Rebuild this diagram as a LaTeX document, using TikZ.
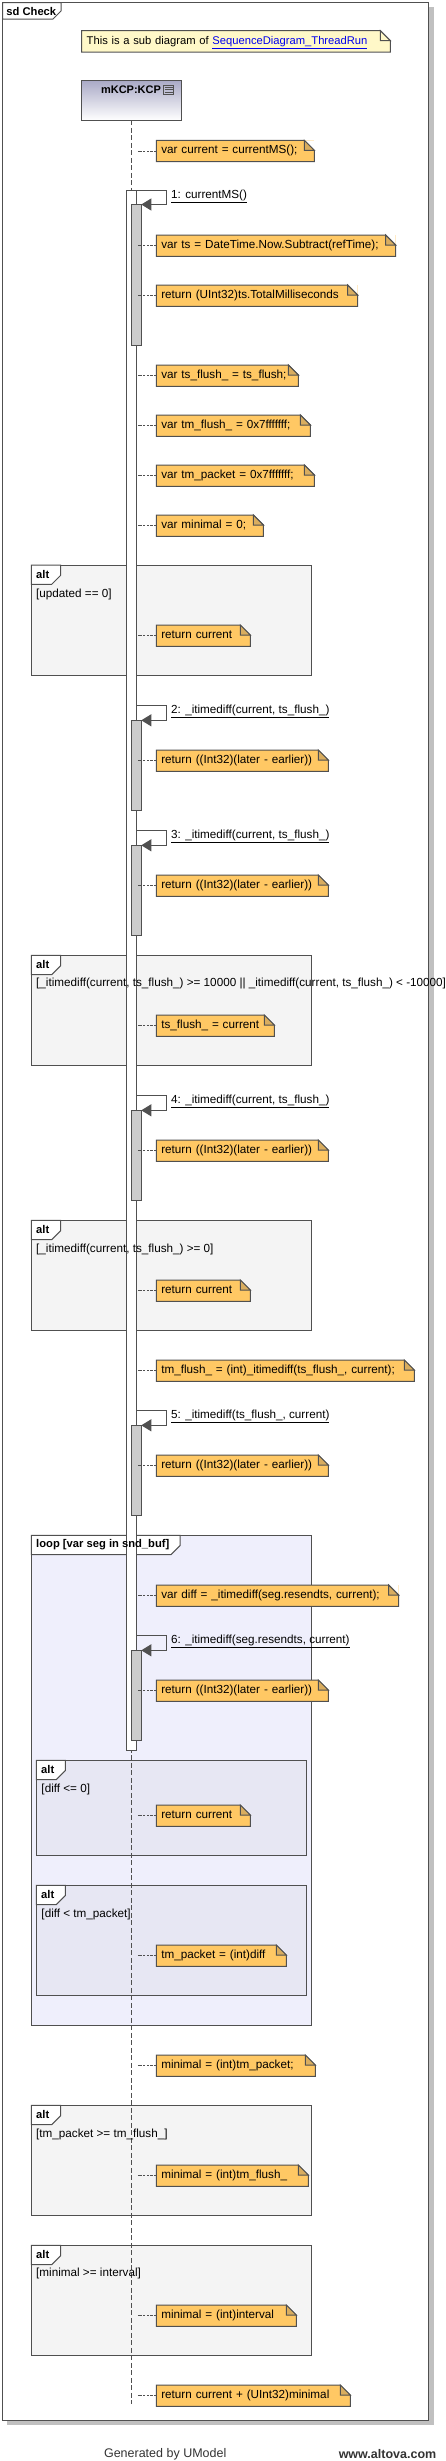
\documentclass[tikz,border=0pt]{standalone}
\usepackage{fontspec}
\setmainfont{Liberation Sans}
\usetikzlibrary{positioning,arrows.meta,calc}
\definecolor{linegray}{HTML}{505050}
\definecolor{shadowgray}{HTML}{C0C0C0}
\definecolor{noteorange}{HTML}{FFC864}
\definecolor{notefold}{HTML}{D9AD5F}
\definecolor{topnotefill}{HTML}{FFF8C8}
\definecolor{altgray}{HTML}{F4F4F4}
\definecolor{loopblue}{HTML}{EFEFFC}
\definecolor{innerblue}{HTML}{E7E7F3}
\definecolor{headtop}{HTML}{A9A9C6}
\definecolor{actgray}{HTML}{CCCCCC}
\definecolor{linkblue}{HTML}{0000EE}
\definecolor{footgray}{HTML}{333333}
\newcommand{\umlfont}{\fontsize{11.7}{14}\selectfont}
\newcommand{\tabfont}{\fontsize{11.2}{13.4}\selectfont\bfseries}
\newcommand{\footfont}{\fontsize{12.5}{15}\selectfont}

\begin{document}
\begin{tikzpicture}[x=1pt, y=-1pt,
    frag/.style={draw=linegray, line width=1pt, anchor=north west, inner sep=0pt, outer sep=0pt},
    tabline/.style={draw=linegray, line width=1pt, fill=white},
    tabtext/.style={anchor=west, inner sep=0pt, font=\tabfont},
    guard/.style={anchor=west, inner sep=0pt, font=\umlfont},
    note/.style={fill=noteorange, anchor=north west, inner ysep=0pt, inner xsep=5pt, outer sep=0pt,
        minimum height=21.3pt, text height=8.5pt, text depth=2.5pt, font=\umlfont, align=left},
    noteline/.style={draw=linegray, line width=1pt},
    fold/.style={draw=linegray, line width=1pt, fill=notefold},
    act/.style={draw=linegray, line width=1pt, anchor=north west, inner sep=0pt, outer sep=0pt, minimum width=9.6pt},
    conn/.style={draw=linegray, line width=0.8pt, dash pattern=on 2.2pt off 1.5pt},
    lifeline/.style={draw=linegray, line width=1.3pt, dash pattern=on 5pt off 2.5pt},
    msg/.style={draw=linegray, line width=1pt, -{Triangle[length=10pt, width=12pt]}},
    msglabel/.style={anchor=base west, inner sep=0pt, font=\umlfont}
  ]
  \useasboundingbox (0,0) rectangle (445,2461);
  \fill[shadowgray] (7.3,6.7) rectangle (434,2425.3);
  \node[frag, fill=white, minimum width=425.6pt, minimum height=2417.3pt] (sd) at (2.7,2.7) {};
  \filldraw[tabline] (sd.north west) -- ++(58.3,0) -- ++(0,8.3) -- ++(-8,8) -| (sd.north west) -- cycle;
  \node[tabtext] (sdname) at ([shift={(3.5,8.5)}]sd.north west) {sd Check};

  \node[note, fill=topnotefill, text width=298.6pt, font=\fontsize{11.2}{13.4}\selectfont] (topnote) at (81.7,30.7)
    {This is a sub diagram of \textcolor{linkblue}{\underline{SequenceDiagram\_ThreadRun}}};
  \fill[white] ($(topnote.north east)+(-10,0)$) -- (topnote.north east) -- ++(0,10) -- cycle;
  \draw[noteline] (topnote.south west) -- (topnote.north west) -- ($(topnote.north east)+(-10,0)$) -- ($(topnote.north east)+(0,10)$) -- (topnote.south east) -- cycle;
  \filldraw[noteline, fill=topnotefill] ($(topnote.north east)+(-10,0)$) -- ++(0,10) -- ++(10,0) -- cycle;

  \node[draw=linegray, line width=1pt, top color=headtop, bottom color=white, anchor=north west,
    minimum width=100pt, minimum height=40pt, inner sep=0pt, outer sep=0pt] (kcp) at (81.7,80.3) {};
  \node[font=\fontsize{11}{13}\selectfont\bfseries, inner sep=0pt] (kcpname) at (131,90) {mKCP:KCP};
  \draw[linegray, line width=0.6pt] (163.3,85) rectangle (173.7,94.3);
  \foreach \y in {87.6,89.7,91.8}
    \draw[linegray, line width=0.5pt] (164.5,\y) -- (172.5,\y);

  \node[frag, fill=altgray, minimum width=280.4pt, minimum height=110.3pt] (altupd) at (31.3,565) {};
  \node[frag, fill=altgray, minimum width=280.4pt, minimum height=110pt] (altflush) at (31.3,955.3) {};
  \node[frag, fill=altgray, minimum width=280.4pt, minimum height=110pt] (altpos) at (31.3,1220.3) {};
  \node[frag, fill=loopblue, minimum width=280.4pt, minimum height=490pt] (loopseg) at (31.3,1535.3) {};
  \node[frag, fill=innerblue, minimum width=270pt, minimum height=95pt] (altdiff) at (36.3,1760.3) {};
  \node[frag, fill=innerblue, minimum width=270pt, minimum height=110pt] (altpkt) at (36.3,1885.3) {};
  \node[frag, fill=altgray, minimum width=280.4pt, minimum height=110pt] (altmin) at (31.3,2105.3) {};
  \node[frag, fill=altgray, minimum width=280.4pt, minimum height=110pt] (altint) at (31.3,2245.3) {};
  \foreach \f/\w in {altupd/29.4, altflush/29.4, altpos/29.4, loopseg/148.7, altdiff/29, altpkt/29, altmin/29.4, altint/29.4}
    \filldraw[tabline] (\f.north west) -- ++(\w,0) -- ++(0,10.3) -- ++(-9,9) -| (\f.north west) -- cycle;

  \coordinate (lifeend) at (131.7,2404);
  \draw[lifeline] (kcp.south) -- (lifeend);

  \node[act, fill=white, minimum height=1559.3pt] (act0) at (126.7,190.7) {};
  \foreach \i/\t/\h in {1/204.5/140.5, 2/720.3/89.7, 3/845.3/90, 4/1110.3/90, 5/1425.3/90, 6/1650.3/90}
    \node[act, fill=actgray, minimum height=\h] (act\i) at (131.7,\t) {};

  \node[tabtext] (tupd) at ([shift={(4.7,9.6)}]altupd.north west) {alt};
  \node[tabtext] (tflush) at ([shift={(4.7,9.6)}]altflush.north west) {alt};
  \node[tabtext] (tpos) at ([shift={(4.7,9.6)}]altpos.north west) {alt};
  \node[tabtext] (tloop) at ([shift={(4.7,9.6)}]loopseg.north west) {loop [var seg in snd\_buf]};
  \node[tabtext] (tdiff) at ([shift={(4.7,9.6)}]altdiff.north west) {alt};
  \node[tabtext] (tpkt) at ([shift={(4.7,9.6)}]altpkt.north west) {alt};
  \node[tabtext] (tmin) at ([shift={(4.7,9.6)}]altmin.north west) {alt};
  \node[tabtext] (tint) at ([shift={(4.7,9.6)}]altint.north west) {alt};

  \node[guard] (gupd) at (36,594) {[updated == 0]};
  \node[guard] (gflush) at (36,983.7) {[\_itimediff(current, ts\_flush\_) >= 10000 || \_itimediff(current, ts\_flush\_) < -10000]};
  \node[guard] (gpos) at (36,1249) {[\_itimediff(current, ts\_flush\_) >= 0]};
  \node[guard] (gdiff) at (41.3,1789) {[diff <= 0]};
  \node[guard] (gpkt) at (41.3,1914) {[diff < tm\_packet]};
  \node[guard] (gmin) at (36,2134) {[tm\_packet >= tm\_flush\_]};
  \node[guard] (gint) at (36,2273.3) {[minimal >= interval]};

  \node[note, text width=148pt] (n1) at (156.3,140.3) {var current = currentMS();};
  \node[note, text width=229.4pt] (n2) at (156.3,235) {var ts = DateTime.Now.Subtract(refTime);};
  \node[note, text width=191.4pt] (n3) at (156.3,285) {return (UInt32)ts.TotalMilliseconds};
  \node[note, text width=132pt] (n4) at (156.3,365) {var ts\_flush\_ = ts\_flush;};
  \node[note, text width=144pt] (n5) at (156.3,415) {var tm\_flush\_ = 0x7fffffff;};
  \node[note, text width=148pt] (n6) at (156.3,465) {var tm\_packet = 0x7fffffff;};
  \node[note, text width=97pt] (n7) at (156.3,515) {var minimal = 0;};
  \node[note, text width=84pt] (n8) at (156.3,625) {return current};
  \node[note, text width=162pt] (n9) at (156.3,750) {return ((Int32)(later - earlier))};
  \node[note, text width=162pt] (n10) at (156.3,875) {return ((Int32)(later - earlier))};
  \node[note, text width=108pt] (n11) at (156.3,1015) {ts\_flush\_ = current};
  \node[note, text width=162pt] (n12) at (156.3,1140) {return ((Int32)(later - earlier))};
  \node[note, text width=84pt] (n13) at (156.3,1280) {return current};
  \node[note, text width=248pt] (n14) at (156.3,1360) {tm\_flush\_ = (int)\_itimediff(ts\_flush\_, current);};
  \node[note, text width=162pt] (n15) at (156.3,1455) {return ((Int32)(later - earlier))};
  \node[note, text width=232.4pt] (n16) at (156.3,1585) {var diff = \_itimediff(seg.resendts, current);};
  \node[note, text width=162pt] (n17) at (156.3,1680) {return ((Int32)(later - earlier))};
  \node[note, text width=84pt] (n18) at (156.3,1805) {return current};
  \node[note, text width=120pt] (n19) at (156.3,1945) {tm\_packet = (int)diff};
  \node[note, text width=149pt] (n20) at (156.3,2055) {minimal = (int)tm\_packet;};
  \node[note, text width=142pt] (n21) at (156.3,2165) {minimal = (int)tm\_flush\_};
  \node[note, text width=130pt] (n22) at (156.3,2305) {minimal = (int)interval};
  \node[note, text width=184pt] (n23) at (156.3,2385) {return current + (UInt32)minimal};
  \foreach \i/\c in {1/white, 2/white, 3/white, 4/white, 5/white, 6/white, 7/white, 8/altgray,
      9/white, 10/white, 11/altgray, 12/white, 13/altgray, 14/white, 15/white, 16/white,
      17/white, 18/innerblue, 19/innerblue, 20/white, 21/altgray, 22/altgray, 23/white}{
    \fill[\c] ($(n\i.north east)+(-10,0)$) -- (n\i.north east) -- ++(0,10) -- cycle;
    \draw[noteline] (n\i.south west) -- (n\i.north west) -- ($(n\i.north east)+(-10,0)$) -- ($(n\i.north east)+(0,10)$) -- (n\i.south east) -- cycle;
    \filldraw[fold] ($(n\i.north east)+(-10,0)$) -- ++(0,10) -- ++(10,0) -- cycle;
  }
  \coordinate (lc) at (137.7,0);
  \foreach \i in {1,...,23}
    \draw[conn] (n\i.west) -- (n\i.west -| lc);

  \foreach \i/\t in {1/190.7, 2/705.3, 3/830.3, 4/1095.3, 5/1410.3, 6/1635}
    \coordinate (call\i) at (136.3,\t);
  \foreach \i in {1,...,6}
    \draw[msg] (call\i) -- ++(30,0) |- (act\i.north east);
  \node[msglabel] (lbl1) at ([shift={(34.7,8)}]call1) {\underline{1: currentMS()}};
  \node[msglabel] (lbl2) at ([shift={(34.7,8)}]call2) {\underline{2: \_itimediff(current, ts\_flush\_)}};
  \node[msglabel] (lbl3) at ([shift={(34.7,8)}]call3) {\underline{3: \_itimediff(current, ts\_flush\_)}};
  \node[msglabel] (lbl4) at ([shift={(34.7,8)}]call4) {\underline{4: \_itimediff(current, ts\_flush\_)}};
  \node[msglabel] (lbl5) at ([shift={(34.7,8)}]call5) {\underline{5: \_itimediff(ts\_flush\_, current)}};
  \node[msglabel] (lbl6) at ([shift={(34.7,8)}]call6) {\underline{6: \_itimediff(seg.resendts, current)}};

  \node[font=\footfont, text=footgray] (gen) at (165.2,2454) {Generated by UModel};
  \node[font=\footfont\bfseries, text=footgray] (web) at (387.5,2454) {www.altova.com};
\end{tikzpicture}
\end{document}
